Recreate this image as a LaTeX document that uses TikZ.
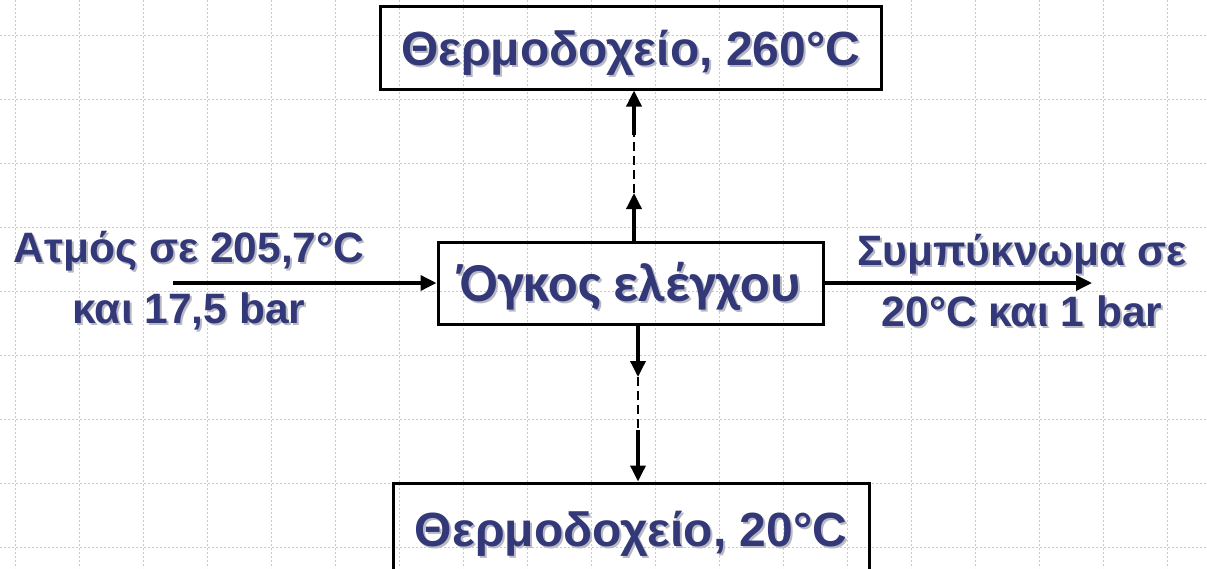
\documentclass[tikz,border=0pt]{standalone}
\usepackage{fontspec}
\setmainfont{Liberation Sans}
\newfontfamily\carl{Carlito}
\usetikzlibrary{arrows.meta}
\definecolor{txt}{RGB}{51,56,120}
\definecolor{gridc}{RGB}{185,200,250}
\definecolor{shc}{RGB}{185,185,195}
\newcommand\shd[1]{\leavevmode\rlap{\kern2pt\raisebox{-2pt}{\textcolor{shc}{#1}}}#1}
\begin{document}
\begin{tikzpicture}[x=1pt,y=-1pt,
  box/.style={draw,line width=3pt,inner sep=0pt,text=txt},
  lbl/.style={text=txt,font=\bfseries\fontsize{42.5}{61}\selectfont,align=center},
  arr/.style={line width=3.5pt,-{Triangle[length=16pt,width=15pt]}},
  dsh/.style={line width=2pt,dash pattern=on 9pt off 5pt},
  gridl/.style={gridc,line width=0.8pt,dash pattern=on 2pt off 2pt}]
\useasboundingbox (0,0) rectangle (1207,568);
\foreach \x in {15,79,...,1207} \draw[gridl] (\x,0) -- (\x,568);
\foreach \y in {35,99,...,568} \draw[gridl] (0,\y) -- (1207,\y);

\node[box,minimum width=501pt,minimum height=83pt,font=\bfseries\fontsize{48}{56}\selectfont,text height=35pt,text depth=0pt] (top) at (630.5,47.5) {\shd{Θερμοδοχείο, 260°C}};
\node[box,minimum width=385pt,minimum height=82pt,font=\carl\bfseries\fontsize{55}{64}\selectfont,text height=36pt,text depth=0pt] (ctrl) at (630.5,283) {\shd{Όγκος ελέγχου}};
\node[box,minimum width=476pt,minimum height=92pt,font=\bfseries\fontsize{48}{56}\selectfont,text height=35pt,text depth=0pt] (bot) at (631,529) {\shd{Θερμοδοχείο, 20°C}};

\node[lbl] (lin) at (189,282) {\shd{Ατμός σε 205,7°C}\\\shd{και 17,5 bar}};
\node[lbl] (lout) at (1022,282) {\shd{Συμπύκνωμα σε}\\\shd{20°C και 1 bar}};

\coordinate (u1) at (634,193);
\coordinate (u2) at (634,135);
\coordinate (d1) at (638,377);
\coordinate (d2) at (638,430);
\coordinate (inL) at (173,283);
\coordinate (outR) at (1092,283);

\draw[arr] (ctrl.north -| u1) -- (u1);
\draw[dsh] (u1) -- (u2);
\draw[arr] (u2) -- (top.south -| u2);
\draw[arr] (ctrl.south -| d1) -- (d1);
\draw[dsh] (d1) -- (d2);
\draw[arr] (d2) -- (bot.north -| d2);
\draw[arr] (inL) -- (ctrl.west);
\draw[arr] (ctrl.east) -- (outR);
\end{tikzpicture}
\end{document}
